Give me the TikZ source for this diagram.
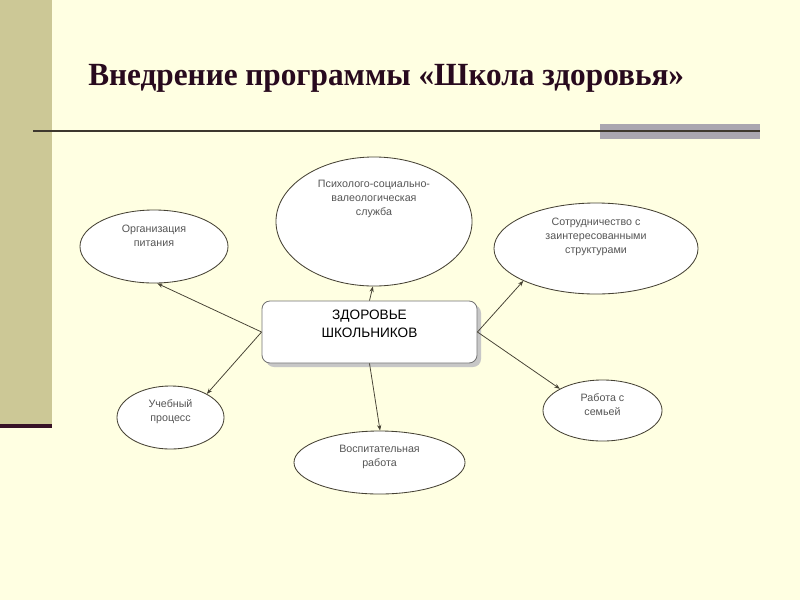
\documentclass[tikz,border=0pt]{standalone}
\usepackage{fontspec}
\setmainfont{Liberation Serif}
\setsansfont{Liberation Sans}
\usetikzlibrary{arrows.meta,shapes.geometric}
\definecolor{bgc}{RGB}{255,255,226}
\definecolor{barc}{RGB}{204,200,150}
\definecolor{barline}{RGB}{55,18,38}
\definecolor{hline}{RGB}{62,56,46}
\definecolor{greyrect}{RGB}{170,166,176}
\definecolor{titlec}{RGB}{40,10,30}
\definecolor{edgec}{RGB}{70,66,52}
\definecolor{elltxt}{RGB}{85,85,85}
\tikzset{
  ell/.style={ellipse, draw=edgec, line width=0.6pt, fill=white, inner sep=0pt},
  etxt/.style={font=\sffamily\fontsize{7.6}{10}\selectfont, text=elltxt, align=center, inner sep=0pt},
  mainbox/.style={rectangle, rounded corners=0.2cm, draw=black!55, line width=0.6pt, fill=white, minimum width=5.375cm, minimum height=1.55cm, inner sep=0pt},
  arr/.style={draw=edgec, line width=0.55pt, -{Stealth[length=4pt,width=3pt]}}
}
\begin{document}
\begin{tikzpicture}[x=0.025cm,y=-0.025cm]
\useasboundingbox (0,0) rectangle (800,600);
\fill[bgc] (0,0) rectangle (800,600);
\fill[barc] (0,0) rectangle (52,425);
\fill[barline] (0,424) rectangle (52,428);
\fill[greyrect] (600,124) rectangle (760,139);
\draw[hline, line width=1.4pt] (33,131) -- (760,131);
\node[font=\bfseries\fontsize{23}{26}\selectfont, text=titlec, anchor=base west, inner sep=0pt] (title) at (88,85) {\scalebox{0.967}[1]{Внедрение программы «Школа здоровья»}};
% main box
\fill[black!22, rounded corners=0.2cm] (266,305) rectangle (481,367);
\node[mainbox] (box) at (369.5,332) {};
\node[font=\sffamily\fontsize{9.7}{12.5}\selectfont, align=center, inner sep=0pt] (boxT) at (369.5,324) {ЗДОРОВЬЕ\\ШКОЛЬНИКОВ};
% ellipses
\node[ell, minimum width=3.7cm, minimum height=1.825cm] (org) at (154,246.5) {};
\node[etxt] (orgT) at (154,236) {Организация\\питания};
\node[ell, minimum width=4.9cm, minimum height=3.225cm] (psy) at (374,221.5) {};
\node[etxt] (psyT) at (374,199) {Психолого-социально-\\валеологическая\\служба};
\node[ell, minimum width=5.1cm, minimum height=2.275cm] (sot) at (596,248.5) {};
\node[etxt] (sotT) at (596,237) {Сотрудничество с\\заинтересованными\\структурами};
\node[ell, minimum width=2.675cm, minimum height=1.575cm] (ucheb) at (170.5,417.5) {};
\node[etxt] (uchebT) at (170.5,412) {Учебный\\процесс};
\node[ell, minimum width=4.275cm, minimum height=1.575cm] (vos) at (379.5,462.5) {};
\node[etxt] (vosT) at (379.5,457) {Воспитательная\\работа};
\node[ell, minimum width=2.975cm, minimum height=1.525cm] (sem) at (602.5,410.5) {};
\node[etxt] (semT) at (602.5,405) {Работа с\\семьей};
% connectors
\draw[arr] (box.west) -- (org.-85);
\draw[arr] (box.north) -- (psy.-91);
\draw[arr] (box.east) -- (sot.-156);
\draw[arr] (box.west) -- (ucheb.33);
\draw[arr] (box.south) -- (vos.89);
\draw[arr] (box.east) -- (sem.153);
\end{tikzpicture}
\end{document}
